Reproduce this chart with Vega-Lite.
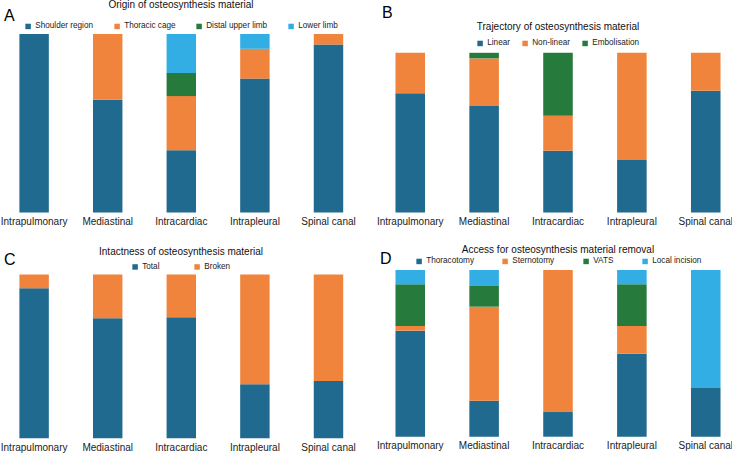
{
  "$schema": "https://vega.github.io/schema/vega-lite/v6.json",
  "padding": 0,
  "background": "white",
  "data": {"values": [
    {"panel": "A", "cat": "Intrapulmonary", "grp": "Shoulder region", "ord": 1, "v": 1.0},
    {"panel": "A", "cat": "Mediastinal", "grp": "Shoulder region", "ord": 1, "v": 0.632},
    {"panel": "A", "cat": "Mediastinal", "grp": "Thoracic cage", "ord": 2, "v": 0.368},
    {"panel": "A", "cat": "Intracardiac", "grp": "Shoulder region", "ord": 1, "v": 0.348},
    {"panel": "A", "cat": "Intracardiac", "grp": "Thoracic cage", "ord": 2, "v": 0.304},
    {"panel": "A", "cat": "Intracardiac", "grp": "Distal upper limb", "ord": 3, "v": 0.13},
    {"panel": "A", "cat": "Intracardiac", "grp": "Lower limb", "ord": 4, "v": 0.218},
    {"panel": "A", "cat": "Intrapleural", "grp": "Shoulder region", "ord": 1, "v": 0.75},
    {"panel": "A", "cat": "Intrapleural", "grp": "Thoracic cage", "ord": 2, "v": 0.167},
    {"panel": "A", "cat": "Intrapleural", "grp": "Lower limb", "ord": 4, "v": 0.083},
    {"panel": "A", "cat": "Spinal canal", "grp": "Shoulder region", "ord": 1, "v": 0.941},
    {"panel": "A", "cat": "Spinal canal", "grp": "Thoracic cage", "ord": 2, "v": 0.059},

    {"panel": "B", "cat": "Intrapulmonary", "grp": "Linear", "ord": 1, "v": 0.747},
    {"panel": "B", "cat": "Intrapulmonary", "grp": "Non-linear", "ord": 2, "v": 0.253},
    {"panel": "B", "cat": "Mediastinal", "grp": "Linear", "ord": 1, "v": 0.666},
    {"panel": "B", "cat": "Mediastinal", "grp": "Non-linear", "ord": 2, "v": 0.299},
    {"panel": "B", "cat": "Mediastinal", "grp": "Embolisation", "ord": 3, "v": 0.035},
    {"panel": "B", "cat": "Intracardiac", "grp": "Linear", "ord": 1, "v": 0.386},
    {"panel": "B", "cat": "Intracardiac", "grp": "Non-linear", "ord": 2, "v": 0.219},
    {"panel": "B", "cat": "Intracardiac", "grp": "Embolisation", "ord": 3, "v": 0.395},
    {"panel": "B", "cat": "Intrapleural", "grp": "Linear", "ord": 1, "v": 0.328},
    {"panel": "B", "cat": "Intrapleural", "grp": "Non-linear", "ord": 2, "v": 0.672},
    {"panel": "B", "cat": "Spinal canal", "grp": "Linear", "ord": 1, "v": 0.762},
    {"panel": "B", "cat": "Spinal canal", "grp": "Non-linear", "ord": 2, "v": 0.238},

    {"panel": "C", "cat": "Intrapulmonary", "grp": "Total", "ord": 1, "v": 0.916},
    {"panel": "C", "cat": "Intrapulmonary", "grp": "Broken", "ord": 2, "v": 0.084},
    {"panel": "C", "cat": "Mediastinal", "grp": "Total", "ord": 1, "v": 0.733},
    {"panel": "C", "cat": "Mediastinal", "grp": "Broken", "ord": 2, "v": 0.267},
    {"panel": "C", "cat": "Intracardiac", "grp": "Total", "ord": 1, "v": 0.739},
    {"panel": "C", "cat": "Intracardiac", "grp": "Broken", "ord": 2, "v": 0.261},
    {"panel": "C", "cat": "Intrapleural", "grp": "Total", "ord": 1, "v": 0.33},
    {"panel": "C", "cat": "Intrapleural", "grp": "Broken", "ord": 2, "v": 0.67},
    {"panel": "C", "cat": "Spinal canal", "grp": "Total", "ord": 1, "v": 0.35},
    {"panel": "C", "cat": "Spinal canal", "grp": "Broken", "ord": 2, "v": 0.65},

    {"panel": "D", "cat": "Intrapulmonary", "grp": "Thoracotomy", "ord": 1, "v": 0.636},
    {"panel": "D", "cat": "Intrapulmonary", "grp": "Sternotomy", "ord": 2, "v": 0.028},
    {"panel": "D", "cat": "Intrapulmonary", "grp": "VATS", "ord": 3, "v": 0.25},
    {"panel": "D", "cat": "Intrapulmonary", "grp": "Local incision", "ord": 4, "v": 0.086},
    {"panel": "D", "cat": "Mediastinal", "grp": "Thoracotomy", "ord": 1, "v": 0.216},
    {"panel": "D", "cat": "Mediastinal", "grp": "Sternotomy", "ord": 2, "v": 0.564},
    {"panel": "D", "cat": "Mediastinal", "grp": "VATS", "ord": 3, "v": 0.128},
    {"panel": "D", "cat": "Mediastinal", "grp": "Local incision", "ord": 4, "v": 0.092},
    {"panel": "D", "cat": "Intracardiac", "grp": "Thoracotomy", "ord": 1, "v": 0.148},
    {"panel": "D", "cat": "Intracardiac", "grp": "Sternotomy", "ord": 2, "v": 0.852},
    {"panel": "D", "cat": "Intrapleural", "grp": "Thoracotomy", "ord": 1, "v": 0.498},
    {"panel": "D", "cat": "Intrapleural", "grp": "Sternotomy", "ord": 2, "v": 0.166},
    {"panel": "D", "cat": "Intrapleural", "grp": "VATS", "ord": 3, "v": 0.25},
    {"panel": "D", "cat": "Intrapleural", "grp": "Local incision", "ord": 4, "v": 0.086},
    {"panel": "D", "cat": "Spinal canal", "grp": "Thoracotomy", "ord": 1, "v": 0.292},
    {"panel": "D", "cat": "Spinal canal", "grp": "Local incision", "ord": 4, "v": 0.708}
  ]},
  "spacing": 14,
  "resolve": {"scale": {"color": "independent", "x": "independent", "y": "independent"}, "legend": {"color": "independent"}},
  "hconcat": [
    {
      "spacing": 19.5,
      "resolve": {"scale": {"color": "independent", "x": "independent", "y": "independent"}, "legend": {"color": "independent"}},
      "vconcat": [
        {
          "width": 360.6, "height": 178.4,
          "title": {"text": "A", "anchor": "start", "offset": -20, "dx": 3, "dy": 4},
          "transform": [{"filter": "datum.panel == 'A'"}],
          "mark": {"type": "bar"},
          "encoding": {
            "x": {"field": "cat", "type": "nominal", "sort": ["Intrapulmonary", "Mediastinal", "Intracardiac", "Intrapleural", "Spinal canal"], "scale": {"paddingInner": 0.6, "paddingOuter": 0.25}},
            "y": {"field": "v", "type": "quantitative", "stack": "normalize", "axis": null},
            "color": {"field": "grp", "type": "nominal",
              "scale": {"domain": ["Shoulder region", "Thoracic cage", "Distal upper limb", "Lower limb"], "range": ["#1f6a8e", "#f0843d", "#267b3c", "#33aee4"]},
              "legend": {"title": "Origin of osteosynthesis material", "columnPadding": 19, "offset": 3.7, "titlePadding": 12}},
            "order": {"field": "ord", "type": "quantitative"}
          }
        },
        {
          "width": 360.6, "height": 163.7,
          "title": {"text": "C", "anchor": "start", "offset": -19, "dx": 3, "dy": 2},
          "transform": [{"filter": "datum.panel == 'C'"}],
          "mark": {"type": "bar"},
          "encoding": {
            "x": {"field": "cat", "type": "nominal", "sort": ["Intrapulmonary", "Mediastinal", "Intracardiac", "Intrapleural", "Spinal canal"], "scale": {"paddingInner": 0.6, "paddingOuter": 0.25}},
            "y": {"field": "v", "type": "quantitative", "stack": "normalize", "axis": null},
            "color": {"field": "grp", "type": "nominal",
              "scale": {"domain": ["Total", "Broken"], "range": ["#1f6a8e", "#f0843d"]},
              "legend": {"title": "Intactness of osteosynthesis material", "columnPadding": 33, "offset": 4, "titlePadding": 6}},
            "order": {"field": "ord", "type": "quantitative"}
          }
        }
      ]
    },
    {
      "spacing": 18,
      "resolve": {"scale": {"color": "independent", "x": "independent", "y": "independent"}, "legend": {"color": "independent"}},
      "vconcat": [
        {
          "width": 362, "height": 178.4,
          "title": {"text": "B", "anchor": "start", "offset": 1, "dx": 5},
          "transform": [{"filter": "datum.panel == 'B'"}],
          "mark": {"type": "bar"},
          "encoding": {
            "x": {"field": "cat", "type": "nominal", "sort": ["Intrapulmonary", "Mediastinal", "Intracardiac", "Intrapleural", "Spinal canal"], "scale": {"paddingInner": 0.6, "paddingOuter": 0.25}},
            "y": {"field": "v", "type": "quantitative", "stack": "normalize", "axis": null, "scale": {"domain": [0, 1.1178], "nice": false}},
            "color": {"field": "grp", "type": "nominal",
              "scale": {"domain": ["Linear", "Non-linear", "Embolisation"], "range": ["#1f6a8e", "#f0843d", "#267b3c"]},
              "legend": {"title": "Trajectory of osteosynthesis material", "columnPadding": 11, "offset": -13, "titlePadding": 7}},
            "order": {"field": "ord", "type": "quantitative"}
          }
        },
        {
          "width": 362, "height": 166.7,
          "title": {"text": "D", "anchor": "start", "offset": -22, "dx": 3},
          "transform": [{"filter": "datum.panel == 'D'"}],
          "mark": {"type": "bar"},
          "encoding": {
            "x": {"field": "cat", "type": "nominal", "sort": ["Intrapulmonary", "Mediastinal", "Intracardiac", "Intrapleural", "Spinal canal"], "scale": {"paddingInner": 0.6, "paddingOuter": 0.25}},
            "y": {"field": "v", "type": "quantitative", "stack": "normalize", "axis": null},
            "color": {"field": "grp", "type": "nominal",
              "scale": {"domain": ["Thoracotomy", "Sternotomy", "VATS", "Local incision"], "range": ["#1f6a8e", "#f0843d", "#267b3c", "#33aee4"]},
              "legend": {"title": "Access for osteosynthesis material removal", "columnPadding": 27, "offset": 5, "titlePadding": 2}},
            "order": {"field": "ord", "type": "quantitative"}
          }
        }
      ]
    }
  ],
  "config": {
    "font": "Liberation Sans",
    "view": {"stroke": null},
    "title": {"fontSize": 16, "fontWeight": "normal", "color": "#000000", "frame": "group"},
    "axisX": {"title": null, "labelAngle": 0, "ticks": false, "tickSize": 0, "domain": false, "labelPadding": 4, "labelFontSize": 10, "labelColor": "#222222", "grid": false},
    "legend": {
      "orient": "top", "direction": "horizontal", "titleOrient": "top", "titleAnchor": "middle",
      "titleFontSize": 10, "titleFontWeight": "normal", "titleColor": "#111111", "titleLimit": 600,
      "labelFontSize": 8.2, "labelColor": "#222222", "labelOffset": 3,
      "symbolType": "square", "symbolSize": 30, "symbolStrokeWidth": 0,
      "layout": {"top": {"anchor": "middle"}}
    }
  }
}
